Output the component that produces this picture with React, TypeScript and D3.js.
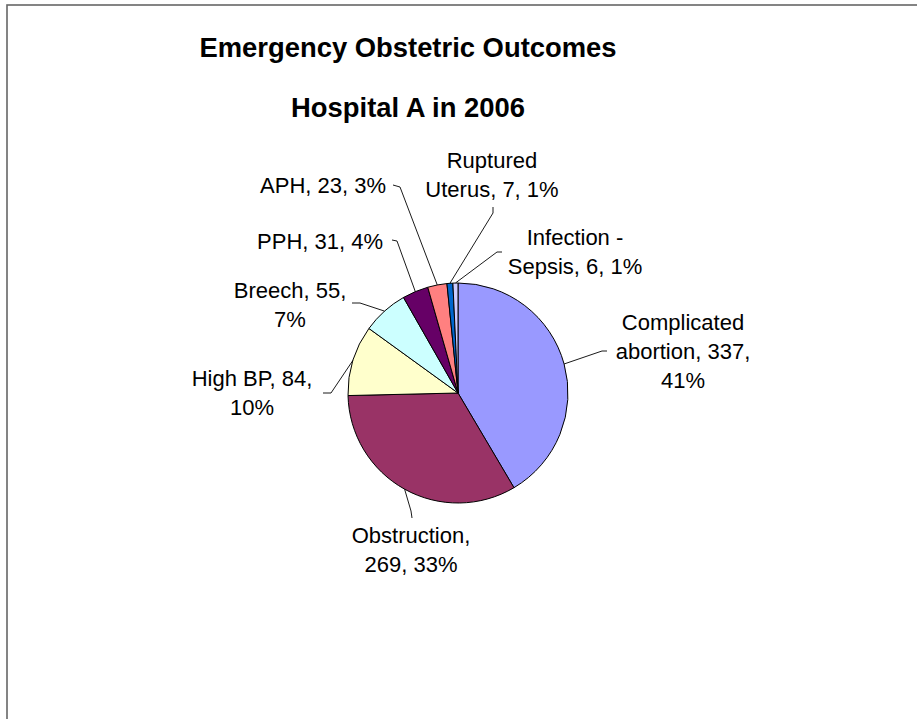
import React from "react";
import * as d3 from "d3";

const categories = [
  "Complicated abortion",
  "Obstruction",
  "High BP",
  "Breech",
  "PPH",
  "APH",
  "Ruptured Uterus",
  "Infection - Sepsis",
];
const values = [337, 269, 84, 55, 31, 23, 7, 6];
const percentLabels = ["41%", "33%", "10%", "7%", "4%", "3%", "1%", "1%"];
const labelLines = [
  ["Complicated", "abortion, 337,", "41%"],
  ["Obstruction,", "269, 33%"],
  ["High BP, 84,", "10%"],
  ["Breech, 55,", "7%"],
  ["PPH, 31, 4%"],
  ["APH, 23, 3%"],
  ["Ruptured", "Uterus, 7, 1%"],
  ["Infection -", "Sepsis, 6, 1%"],
];
const colors = ["#9999FF", "#993366", "#FFFFCC", "#CCFFFF", "#660066", "#FF8080", "#0066CC", "#CCCCFF"];
const titleLines = ["Emergency Obstetric Outcomes", "Hospital A in 2006"];

// layout for labels: text x, anchor, first baseline, leader start + knee
const labelLayout = [
  { x: 683, anchor: "middle", y: 330, sx: 607, sy: 351, kx: 602, ky: 351 },
  { x: 411, anchor: "middle", y: 543, sx: 412, sy: 518, kx: 411, ky: 511 },
  { x: 252, anchor: "middle", y: 386, sx: 323, sy: 393, kx: 331, ky: 393 },
  { x: 290, anchor: "middle", y: 298, sx: 352, sy: 303, kx: 360, ky: 303 },
  { x: 383, anchor: "end", y: 249, sx: 392, sy: 240, kx: 397, ky: 241 },
  { x: 386, anchor: "end", y: 193, sx: 393, sy: 185, kx: 400, ky: 187 },
  { x: 492, anchor: "middle", y: 168, sx: 493, sy: 207, kx: 493, ky: 213 },
  { x: 575, anchor: "middle", y: 245, sx: 502, sy: 252, kx: 497, ky: 252 },
];

const W = 917;
const H = 719;
const cx = 458;
const cy = 393;
const R = 110;
const font = "'Liberation Sans', Arial, Helvetica, sans-serif";

export default function App() {
  const data = categories.map((c, i) => ({ name: c, value: values[i], pct: percentLabels[i] }));
  const pie = d3.pie<any>().value((d) => d.value).sort(null).startAngle(0).endAngle(2 * Math.PI);
  const arcs = pie(data);
  const arc = d3.arc<any>().innerRadius(0).outerRadius(R);

  return (
    <svg width={W} height={H} style={{ position: "absolute", left: 0, top: 0, background: "#fff" }}>
      <rect x={0} y={0} width={W} height={H} fill="#fff" />
      <rect x={7} y={5} width={2000} height={2000} fill="none" stroke="#666" strokeWidth={1.6} />
      <g fontFamily={font} fontWeight="bold" fontSize={27.4} textAnchor="middle" fill="#000">
        <text x={408} y={57}>{titleLines[0]}</text>
        <text x={408} y={117}>{titleLines[1]}</text>
      </g>
      <g transform={`translate(${cx},${cy})`}>
        {arcs.map((a, i) => (
          <path key={i} d={arc(a) || ""} fill={colors[i]} stroke="#000" strokeWidth={1} />
        ))}
      </g>
      <g fill="none" stroke="#000" strokeWidth={0.9}>
        {arcs.map((a, i) => {
          const m = (a.startAngle + a.endAngle) / 2;
          const rx = cx + R * Math.sin(m);
          const ry = cy - R * Math.cos(m);
          const L = labelLayout[i];
          return <path key={i} d={`M${L.sx},${L.sy}L${L.kx},${L.ky}L${rx},${ry}`} />;
        })}
      </g>
      <g fontFamily={font} fontSize={22} fill="#000">
        {labelLines.map((lines, i) => {
          const L = labelLayout[i];
          return (
            <text key={i} textAnchor={L.anchor as any}>
              {lines.map((t, j) => (
                <tspan key={j} x={L.x} y={L.y + j * 29}>{t}</tspan>
              ))}
            </text>
          );
        })}
      </g>
    </svg>
  );
}
